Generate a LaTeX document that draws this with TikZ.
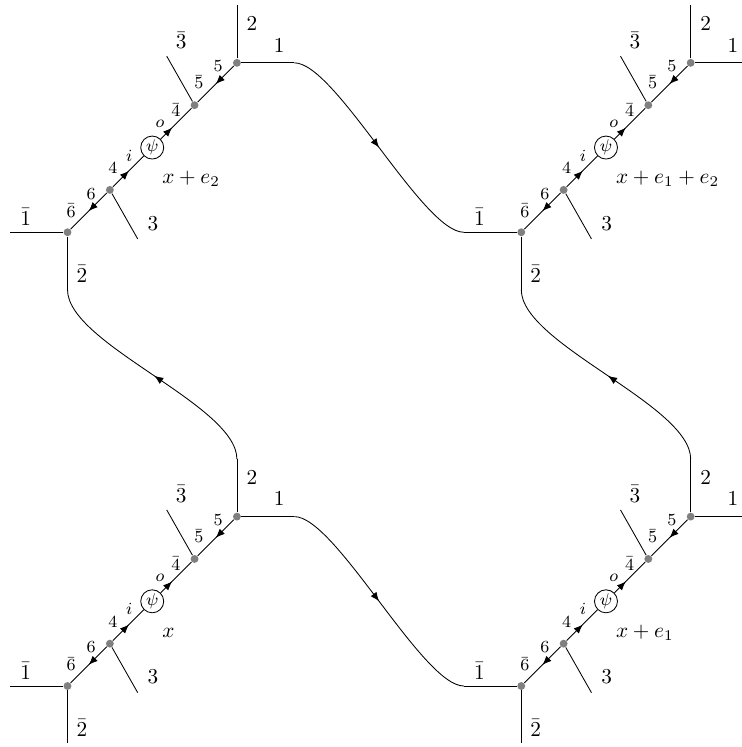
\documentclass[tikz,border=0pt]{standalone}
\usepackage{amsmath, amssymb}
\usepackage{tikz}
\usetikzlibrary{arrows.meta, positioning, calc, decorations.markings}
\definecolor{VertexGray}{RGB}{128,128,128}
\tikzset{
  vertex/.style={circle, fill=VertexGray, inner sep=0pt, minimum size=0.13cm},
  fieldnode/.style={circle, draw, fill=white, inner sep=0pt, minimum size=0.38cm, font=\footnotesize},
  leglabel/.style={inner sep=0pt},
  indexlabel/.style={inner sep=0pt, font=\footnotesize},
  flowarrow/.style={postaction={decorate}, decoration={markings,
      mark=at position #1 with {\arrow{Latex[length=1.5mm,width=1.2mm]}}}}
}
\begin{document}
\begin{tikzpicture}
      \useasboundingbox (-1.116,-1.008) rectangle +(12.248,12.347);
      \foreach \cell/\sx/\sy/\site in {
        bl/0/0/{x}, br/7.5/0/{x+e_1},
        tl/0/7.5/{x+e_2}, tr/7.5/7.5/{x+e_1+e_2}}{
        \begin{scope}[shift={(\sx,\sy)}, name prefix=\cell-]
          \node[vertex] (a) at (0,0) {};
          \node[vertex] (b) at (0.7,0.7) {};
          \node[fieldnode] (psi) at (1.4,1.4) {$\psi$};
          \node[vertex] (c) at (2.1,2.1) {};
          \node[vertex] (d) at (2.8,2.8) {};
          \coordinate (oneb) at (-0.95,0);
          \coordinate (twob) at (0,-0.95);
          \coordinate (three) at (1.16,-0.11);
          \coordinate (threeb) at (1.64,2.91);
          \coordinate (one) at (3.75,2.8);
          \coordinate (two) at (2.8,3.75);
          \draw (a) -- (oneb);
          \draw (a) -- (twob);
          \draw (b) -- (three);
          \draw (c) -- (threeb);
          \draw (d) -- (one);
          \draw (d) -- (two);
          \draw[flowarrow=0.5] (d) -- (c);
          \draw[flowarrow=0.37] (psi) -- (c);
          \draw[flowarrow=0.52] (b) -- (psi);
          \draw[flowarrow=0.5] (b) -- (a);
          \foreach \lx/\ly/\ltxt/\lname in {
            3.05/3.45/2/two, 3.50/3.09/1/one, 1.41/0.15/3/three,
            1.88/3.17/\bar{3}/threeb, -0.69/0.25/\bar{1}/oneb, 0.24/-0.69/\bar{2}/twob}{
            \node[leglabel] (lab-\lname) at (\lx,\ly) {$\ltxt$};
          }
          \foreach \lx/\ly/\ltxt/\lname in {
            2.49/2.74/5/five, 2.17/2.48/\bar{5}/fiveb, 1.79/2.02/\bar{4}/fourb,
            1.53/1.79/o/out, 1.02/1.27/i/in, 0.75/1.06/4/four,
            0.39/0.64/6/six, 0.06/0.36/\bar{6}/sixb}{
            \node[indexlabel] (lab-\lname) at (\lx,\ly) {$\ltxt$};
          }
          \node[leglabel, anchor=base west] (site) at (1.56,0.81) {$\site$};
        \end{scope}
      }
      \draw[flowarrow=0.5] (tl-one) .. controls +(0.68,0) and +(-0.68,0) .. (tr-oneb);
      \draw[flowarrow=0.5] (bl-one) .. controls +(0.68,0) and +(-0.68,0) .. (br-oneb);
      \draw[flowarrow=0.49] (bl-two) .. controls +(0,0.9) and +(0,-0.9) .. (tl-twob);
      \draw[flowarrow=0.49] (br-two) .. controls +(0,0.9) and +(0,-0.9) .. (tr-twob);
    \end{tikzpicture}
\end{document}
